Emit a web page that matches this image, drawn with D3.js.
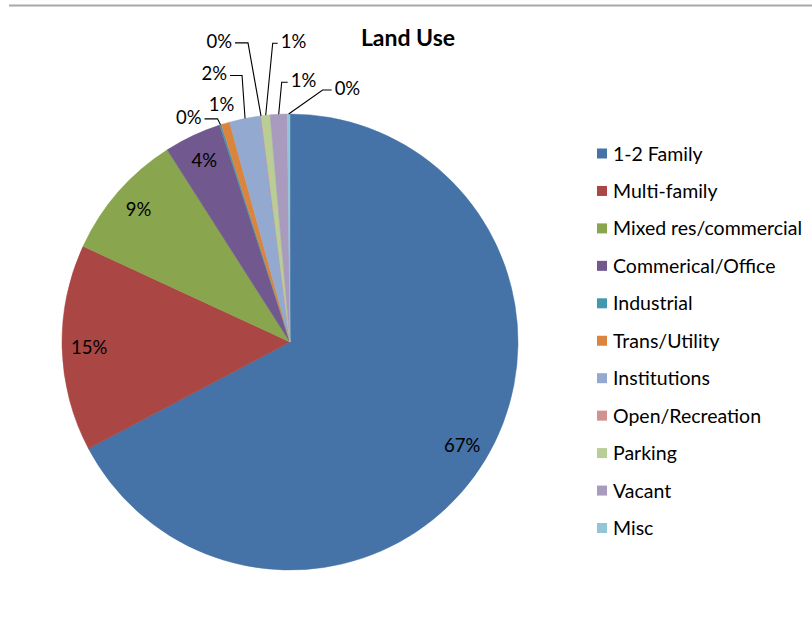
<!DOCTYPE html>
<html>
<head>
<meta charset="utf-8">
<script src="https://cdn.jsdelivr.net/npm/d3@7"></script>
<style>
  html, body { margin: 0; padding: 0; background: #fff; }
  svg { display: block; }
  text { font-family: Lato, "Open Sans", sans-serif; fill: #000; }
</style>
</head>
<body>
<svg id="chart" width="812" height="627"></svg>
<script>
// ---- data ----
const categories = ["1-2 Family", "Multi-family", "Mixed res/commercial", "Commerical/Office",
  "Industrial", "Trans/Utility", "Institutions", "Open/Recreation", "Parking", "Vacant", "Misc"];
const shares = [67.28, 14.64, 9.06, 4.06, 0.12, 0.60, 2.22, 0.04, 0.62, 1.20, 0.19];
const colors = ["#4572A7", "#AA4643", "#89A54E", "#71588F", "#4198AF", "#DB843D",
  "#93A9CF", "#D19392", "#B9CD96", "#A99BBD", "#92C5D6"];
const title = "Land Use";

// ---- layout (annotation placement, not data) ----
const insideLabels = [0, 1, 2, 3];
// elbow offset from slice edge point, horizontal segment length (signed)
const leaderLayout = [
  { i: 4, ex: -3, ey: -6, h: -13 },
  { i: 5, ex: -4, ey: -19, h: 0, noLine: true },
  { i: 6, ex: -3, ey: -43, h: -12 },
  { i: 7, ex: -13, ey: -73, h: -13 },
  { i: 8, ex: 7, ey: -72, h: 5 },
  { i: 9, ex: 3, ey: -32, h: 6 },
  { i: 10, ex: 34, ey: -24, h: 9 }
];

const W = 812, H = 627;
const cx = 290, cy = 342, R = 228;
const svg = d3.select("#chart");

svg.append("rect").attr("width", W).attr("height", H).attr("fill", "#fff");
svg.append("line").attr("x1", 9).attr("x2", W).attr("y1", 5.5).attr("y2", 5.5)
  .attr("stroke", "#a8a8a8").attr("stroke-width", 2);

const data = categories.map((c, i) => ({ name: c, value: shares[i], color: colors[i], i }));
const total = d3.sum(shares);
const fmt = v => Math.round(v / total * 100) + "%";

const pie = d3.pie().value(d => d.value).sort(null);
const arcs = pie(data);
const arc = d3.arc().innerRadius(0).outerRadius(R);
const labelArc = d3.arc().innerRadius(R - 27).outerRadius(R - 27);
const edgeArc = d3.arc().innerRadius(R).outerRadius(R);

const g = svg.append("g").attr("transform", `translate(${cx},${cy})`);
g.selectAll("path.slice").data(arcs).join("path")
  .attr("class", "slice")
  .attr("d", arc)
  .attr("fill", d => d.data.color)
  .attr("stroke", d => d.data.color)
  .attr("stroke-width", 0.5);

// inside labels
g.selectAll("text.inlab").data(arcs.filter(a => insideLabels.includes(a.data.i))).join("text")
  .attr("class", "inlab")
  .attr("transform", d => `translate(${labelArc.centroid(d)})`)
  .attr("text-anchor", "middle")
  .attr("dy", "0.36em")
  .style("font-size", "18.5px")
  .text(d => fmt(d.data.value));

// outside labels with leader lines
leaderLayout.forEach(l => {
  const a = arcs[l.i];
  const [px, py] = edgeArc.centroid(a);
  const ex = px + l.ex, ey = py + l.ey;
  const hx = ex + l.h;
  if (!l.noLine) {
    g.append("path")
      .attr("d", d3.line()([[px, py], [ex, ey], [hx, ey]]))
      .attr("fill", "none").attr("stroke", "#000").attr("stroke-width", 1.1);
  }
  const side = l.noLine ? 0 : Math.sign(l.h);
  g.append("text")
    .attr("x", l.noLine ? ex : hx + side * 3)
    .attr("y", l.noLine ? ey : ey - 2)
    .attr("dy", "0.36em")
    .attr("text-anchor", side < 0 ? "end" : side > 0 ? "start" : "middle")
    .style("font-size", "18.5px")
    .text(fmt(a.data.value));
});

// title
svg.append("text").attr("x", 408).attr("y", 45.5).attr("text-anchor", "middle")
  .style("font-size", "23px").style("font-weight", "bold").text(title);

// legend
const legendY = d3.scalePoint().domain(categories).range([153.5, 528]);
const lg = svg.append("g");
const items = lg.selectAll("g").data(data).join("g")
  .attr("transform", d => `translate(597,${legendY(d.name)})`);
items.append("rect").attr("x", 0).attr("y", -5).attr("width", 10).attr("height", 10)
  .attr("fill", d => d.color);
items.append("text").attr("x", 16).attr("y", 0).attr("dy", "0.36em")
  .style("font-size", "19.5px").text(d => d.name);
</script>
</body>
</html>
